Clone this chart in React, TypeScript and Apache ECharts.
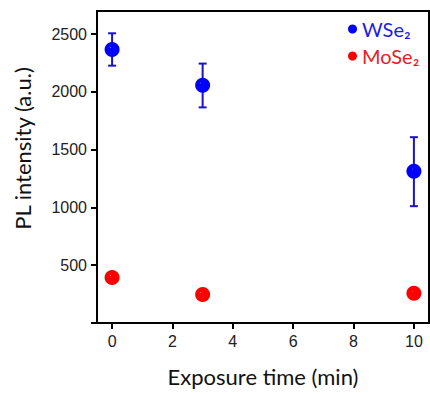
import React, { useEffect, useRef } from "react";
import * as echarts from "echarts";

const xTimes = [0, 3, 10];
const wse2Values = [2367, 2057, 1313];
const wse2Low = [2227, 1866, 1011];
const wse2High = [2507, 2245, 1608];
const mose2Values = [393, 246, 257];
const seriesNames = ["WSe₂", "MoSe₂"];
const xTickValues = [0, 2, 4, 6, 8, 10];

const titleFont = "Lato, 'Open Sans', sans-serif";
const tickFont = "'Liberation Sans', Arial, sans-serif";

function sphere(base: string, dark: string) {
  return new echarts.graphic.RadialGradient(0.38, 0.35, 0.7, [
    { offset: 0, color: "#dfe4ff" },
    { offset: 0.07, color: base },
    { offset: 0.9, color: base },
    { offset: 1, color: dark },
  ]);
}

export default function App() {
  const ref = useRef<HTMLDivElement>(null);
  useEffect(() => {
    if (!ref.current) return;
    const chart = echarts.init(ref.current, null, { renderer: "svg" });
    const errData = xTimes.map((x, i) => [x, wse2Low[i], wse2High[i]]);
    chart.setOption({
      animation: false,
      backgroundColor: "#ffffff",
      grid: {
        left: 97,
        right: 1,
        top: 11,
        bottom: 71,
        show: true,
        borderColor: "#000",
        borderWidth: 2,
        backgroundColor: "transparent",
      },
      legend: {
        orient: "vertical",
        left: 343,
        top: 13,
        itemWidth: 9,
        itemHeight: 9,
        itemGap: 5,
        icon: "circle",
        data: [
          {
            name: seriesNames[0],
            itemStyle: { color: "#0000ff" },
            textStyle: { color: "#1c1ce6" },
          },
          {
            name: seriesNames[1],
            itemStyle: { color: "#ff0000" },
            textStyle: { color: "#e8201e" },
          },
        ],
        textStyle: { fontFamily: titleFont, fontSize: 20, lineHeight: 22 },
      },
      xAxis: {
        type: "value",
        min: -0.5,
        max: 10.5,
        interval: 2,
        name: "Exposure time (min)",
        nameLocation: "middle",
        nameGap: 42,
        nameTextStyle: { fontFamily: titleFont, fontSize: 22, color: "#111" },
        axisLine: { show: true, onZero: false, lineStyle: { color: "#000", width: 2 } },
        axisTick: { show: true, length: 6, lineStyle: { color: "#000", width: 2 }, customValues: xTickValues },
        axisLabel: {
          customValues: xTickValues,
          fontFamily: tickFont,
          fontSize: 16,
          color: "#222",
          margin: 10,
        },
        splitLine: { show: false },
      },
      yAxis: {
        type: "value",
        min: 0,
        max: 2700,
        interval: 500,
        name: "PL intensity (a.u.)",
        nameLocation: "middle",
        nameGap: 64,
        nameTextStyle: { fontFamily: titleFont, fontSize: 22, color: "#111", padding: [0, 0, 0, 37] },
        axisLine: { show: true, onZero: false, lineStyle: { color: "#000", width: 2 } },
        axisTick: { show: true, length: 6, lineStyle: { color: "#000", width: 2 } },
        axisLabel: {
          fontFamily: tickFont,
          fontSize: 16,
          color: "#222",
          margin: 10,
          showMaxLabel: false,
          formatter: (v: number) => (v === 0 || v > 2500 ? "" : String(v)),
        },
        splitLine: { show: false },
      },
      series: [
        {
          name: "WSe₂ error",
          type: "custom",
          renderItem: (params: any, api: any) => {
            const x = api.value(0);
            const lo = api.coord([x, api.value(1)]);
            const hi = api.coord([x, api.value(2)]);
            const half = 4;
            const style = { stroke: "#1a12c8", lineWidth: 2 };
            return {
              type: "group",
              children: [
                { type: "line", shape: { x1: hi[0], y1: hi[1], x2: lo[0], y2: lo[1] }, style },
                { type: "line", shape: { x1: hi[0] - half, y1: hi[1], x2: hi[0] + half, y2: hi[1] }, style },
                { type: "line", shape: { x1: lo[0] - half, y1: lo[1], x2: lo[0] + half, y2: lo[1] }, style },
              ],
            };
          },
          encode: { x: 0, y: [1, 2] },
          data: errData,
          z: 2,
          silent: true,
        },
        {
          name: seriesNames[0],
          type: "scatter",
          symbol: "circle",
          symbolSize: 15,
          itemStyle: { color: sphere("#0000ff", "#0000c8"), opacity: 1 },
          data: xTimes.map((x, i) => [x, wse2Values[i]]),
          z: 3,
        },
        {
          name: seriesNames[1],
          type: "scatter",
          symbol: "circle",
          symbolSize: 15,
          itemStyle: { color: sphere("#ff0000", "#d00000"), opacity: 1 },
          data: xTimes.map((x, i) => [x, mose2Values[i]]),
          z: 3,
        },
      ],
    });
    return () => chart.dispose();
  }, []);
  return (
    <div
      ref={ref}
      style={{ position: "absolute", left: 0, top: 0, width: 430, height: 394 }}
    />
  );
}
